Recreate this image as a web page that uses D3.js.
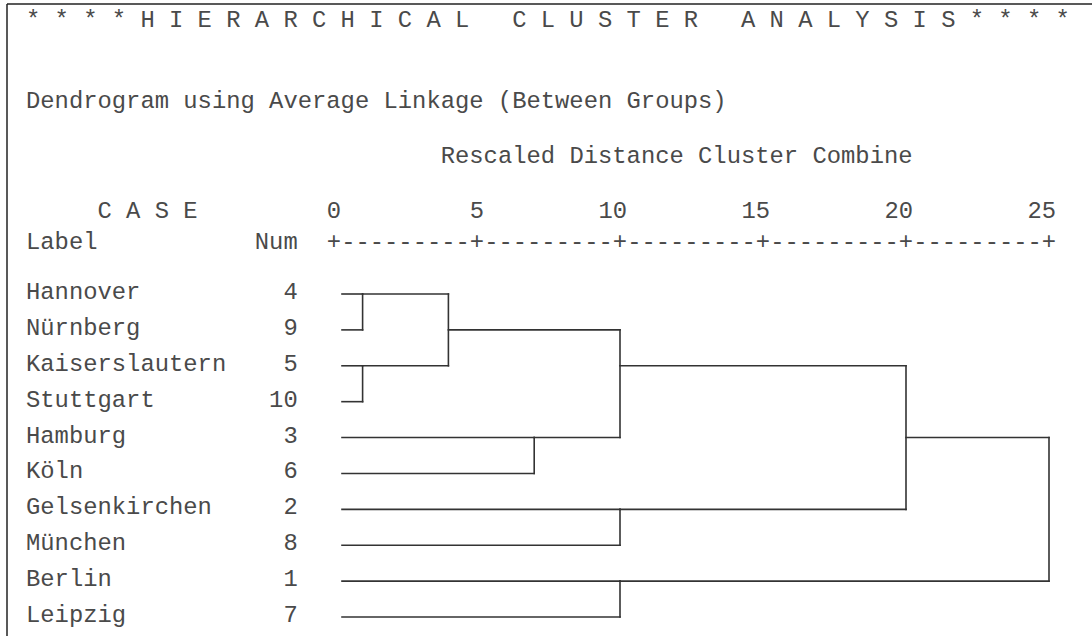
<!DOCTYPE html>
<html>
<head>
<meta charset="utf-8">
<script src="https://cdn.jsdelivr.net/npm/d3@7"></script>
<style>
  body { margin: 0; background: #fff; }
  text {
    font-family: "Courier New", "Nimbus Mono PS", "FreeMono", "Liberation Mono", monospace;
    font-size: 23.83px;
    fill: #4a4a4a;
    white-space: pre;
  }
</style>
</head>
<body>
<svg id="chart" width="1092" height="636"></svg>
<script>
var title = "* * * * H I E R A R C H I C A L   C L U S T E R   A N A L Y S I S * * * *";
var subtitle = "Dendrogram using Average Linkage (Between Groups)";
var axisTitle = "Rescaled Distance Cluster Combine";

var labels = ["Hannover", "Nürnberg", "Kaiserslautern", "Stuttgart", "Hamburg",
              "Köln", "Gelsenkirchen", "München", "Berlin", "Leipzig"];
var nums = [4, 9, 5, 10, 3, 6, 2, 8, 1, 7];

// agglomeration schedule: [cluster a, cluster b, rescaled distance]
// ids 0-9 are the cases in row order, 10+ are the clusters made by each stage
var stages = [
  [0, 1, 1.0],
  [2, 3, 1.0],
  [10, 11, 4.0],
  [4, 5, 7.0],
  [12, 13, 10.0],
  [6, 7, 10.0],
  [8, 9, 10.0],
  [14, 15, 20.0],
  [17, 16, 25.0]
];
var ticks = [0, 5, 10, 15, 20, 25];

var svg = d3.select("#chart");
var left = 26;      // start of column 0
var cw = 14.3;      // width of one character column

var x = d3.scaleLinear().domain([0, 25]).range([334, 1049]);
var y = d3.scalePoint().domain(d3.range(labels.length)).range([294, 617]);

// frame (only top and left edges are visible)
svg.append("line").attr("x1", 7).attr("x2", 1092).attr("y1", 4).attr("y2", 4)
  .attr("stroke", "#222").attr("stroke-width", 1.5);
svg.append("line").attr("x1", 7).attr("x2", 7).attr("y1", 4).attr("y2", 636)
  .attr("stroke", "#222").attr("stroke-width", 1.5);

// header texts
svg.append("text").attr("x", left).attr("y", 27).text(title);
svg.append("text").attr("x", left).attr("y", 108).text(subtitle);
svg.append("text").attr("x", left + 29 * cw).attr("y", 163).text(axisTitle);
svg.append("text").attr("x", left + 5 * cw).attr("y", 218).text("C A S E");
svg.append("text").attr("x", left).attr("y", 249).text("Label");
svg.append("text").attr("x", left + 19 * cw).attr("y", 249)
  .attr("text-anchor", "end").text("Num");

// axis: numbers, plus signs and dashes
svg.selectAll("text.tick").data(ticks).enter().append("text")
  .attr("class", "tick")
  .attr("x", function(d) { return x(d) + cw / 2; })
  .attr("y", 218)
  .attr("text-anchor", "end")
  .text(function(d) { return d; });

svg.selectAll("text.plus").data(ticks).enter().append("text")
  .attr("class", "plus")
  .attr("x", function(d) { return x(d); })
  .attr("y", 249)
  .attr("text-anchor", "middle")
  .text("+");

svg.selectAll("text.dash").data(ticks.slice(1)).enter().append("text")
  .attr("class", "dash")
  .attr("x", function(d) { return x(d - 2.5); })
  .attr("y", 249)
  .attr("text-anchor", "middle")
  .text("---------");

// case rows
var rows = svg.selectAll("g.row").data(labels).enter().append("g")
  .attr("class", "row");
rows.append("text")
  .attr("x", left)
  .attr("y", function(d, i) { return y(i) + 5; })
  .text(function(d) { return d; });
rows.append("text")
  .attr("x", left + 19 * cw)
  .attr("y", function(d, i) { return y(i) + 5; })
  .attr("text-anchor", "end")
  .text(function(d, i) { return nums[i]; });

// dendrogram
var nodes = labels.map(function(d, i) { return { x: x(0) + 8, row: i }; });
var segs = [];
stages.forEach(function(s) {
  var a = nodes[s[0]], b = nodes[s[1]], px = x(s[2]);
  segs.push([a.x, y(a.row), px, y(a.row)]);
  segs.push([b.x, y(b.row), px, y(b.row)]);
  segs.push([px, y(a.row), px, y(b.row)]);
  nodes.push({ x: px, row: Math.floor((a.row + b.row) / 2) });
});

svg.append("g").selectAll("line").data(segs).enter().append("line")
  .attr("x1", function(d) { return d[0]; })
  .attr("y1", function(d) { return d[1]; })
  .attr("x2", function(d) { return d[2]; })
  .attr("y2", function(d) { return d[3]; })
  .attr("stroke", "#333")
  .attr("stroke-width", 1.6)
  .attr("stroke-linecap", "square");
</script>
</body>
</html>
